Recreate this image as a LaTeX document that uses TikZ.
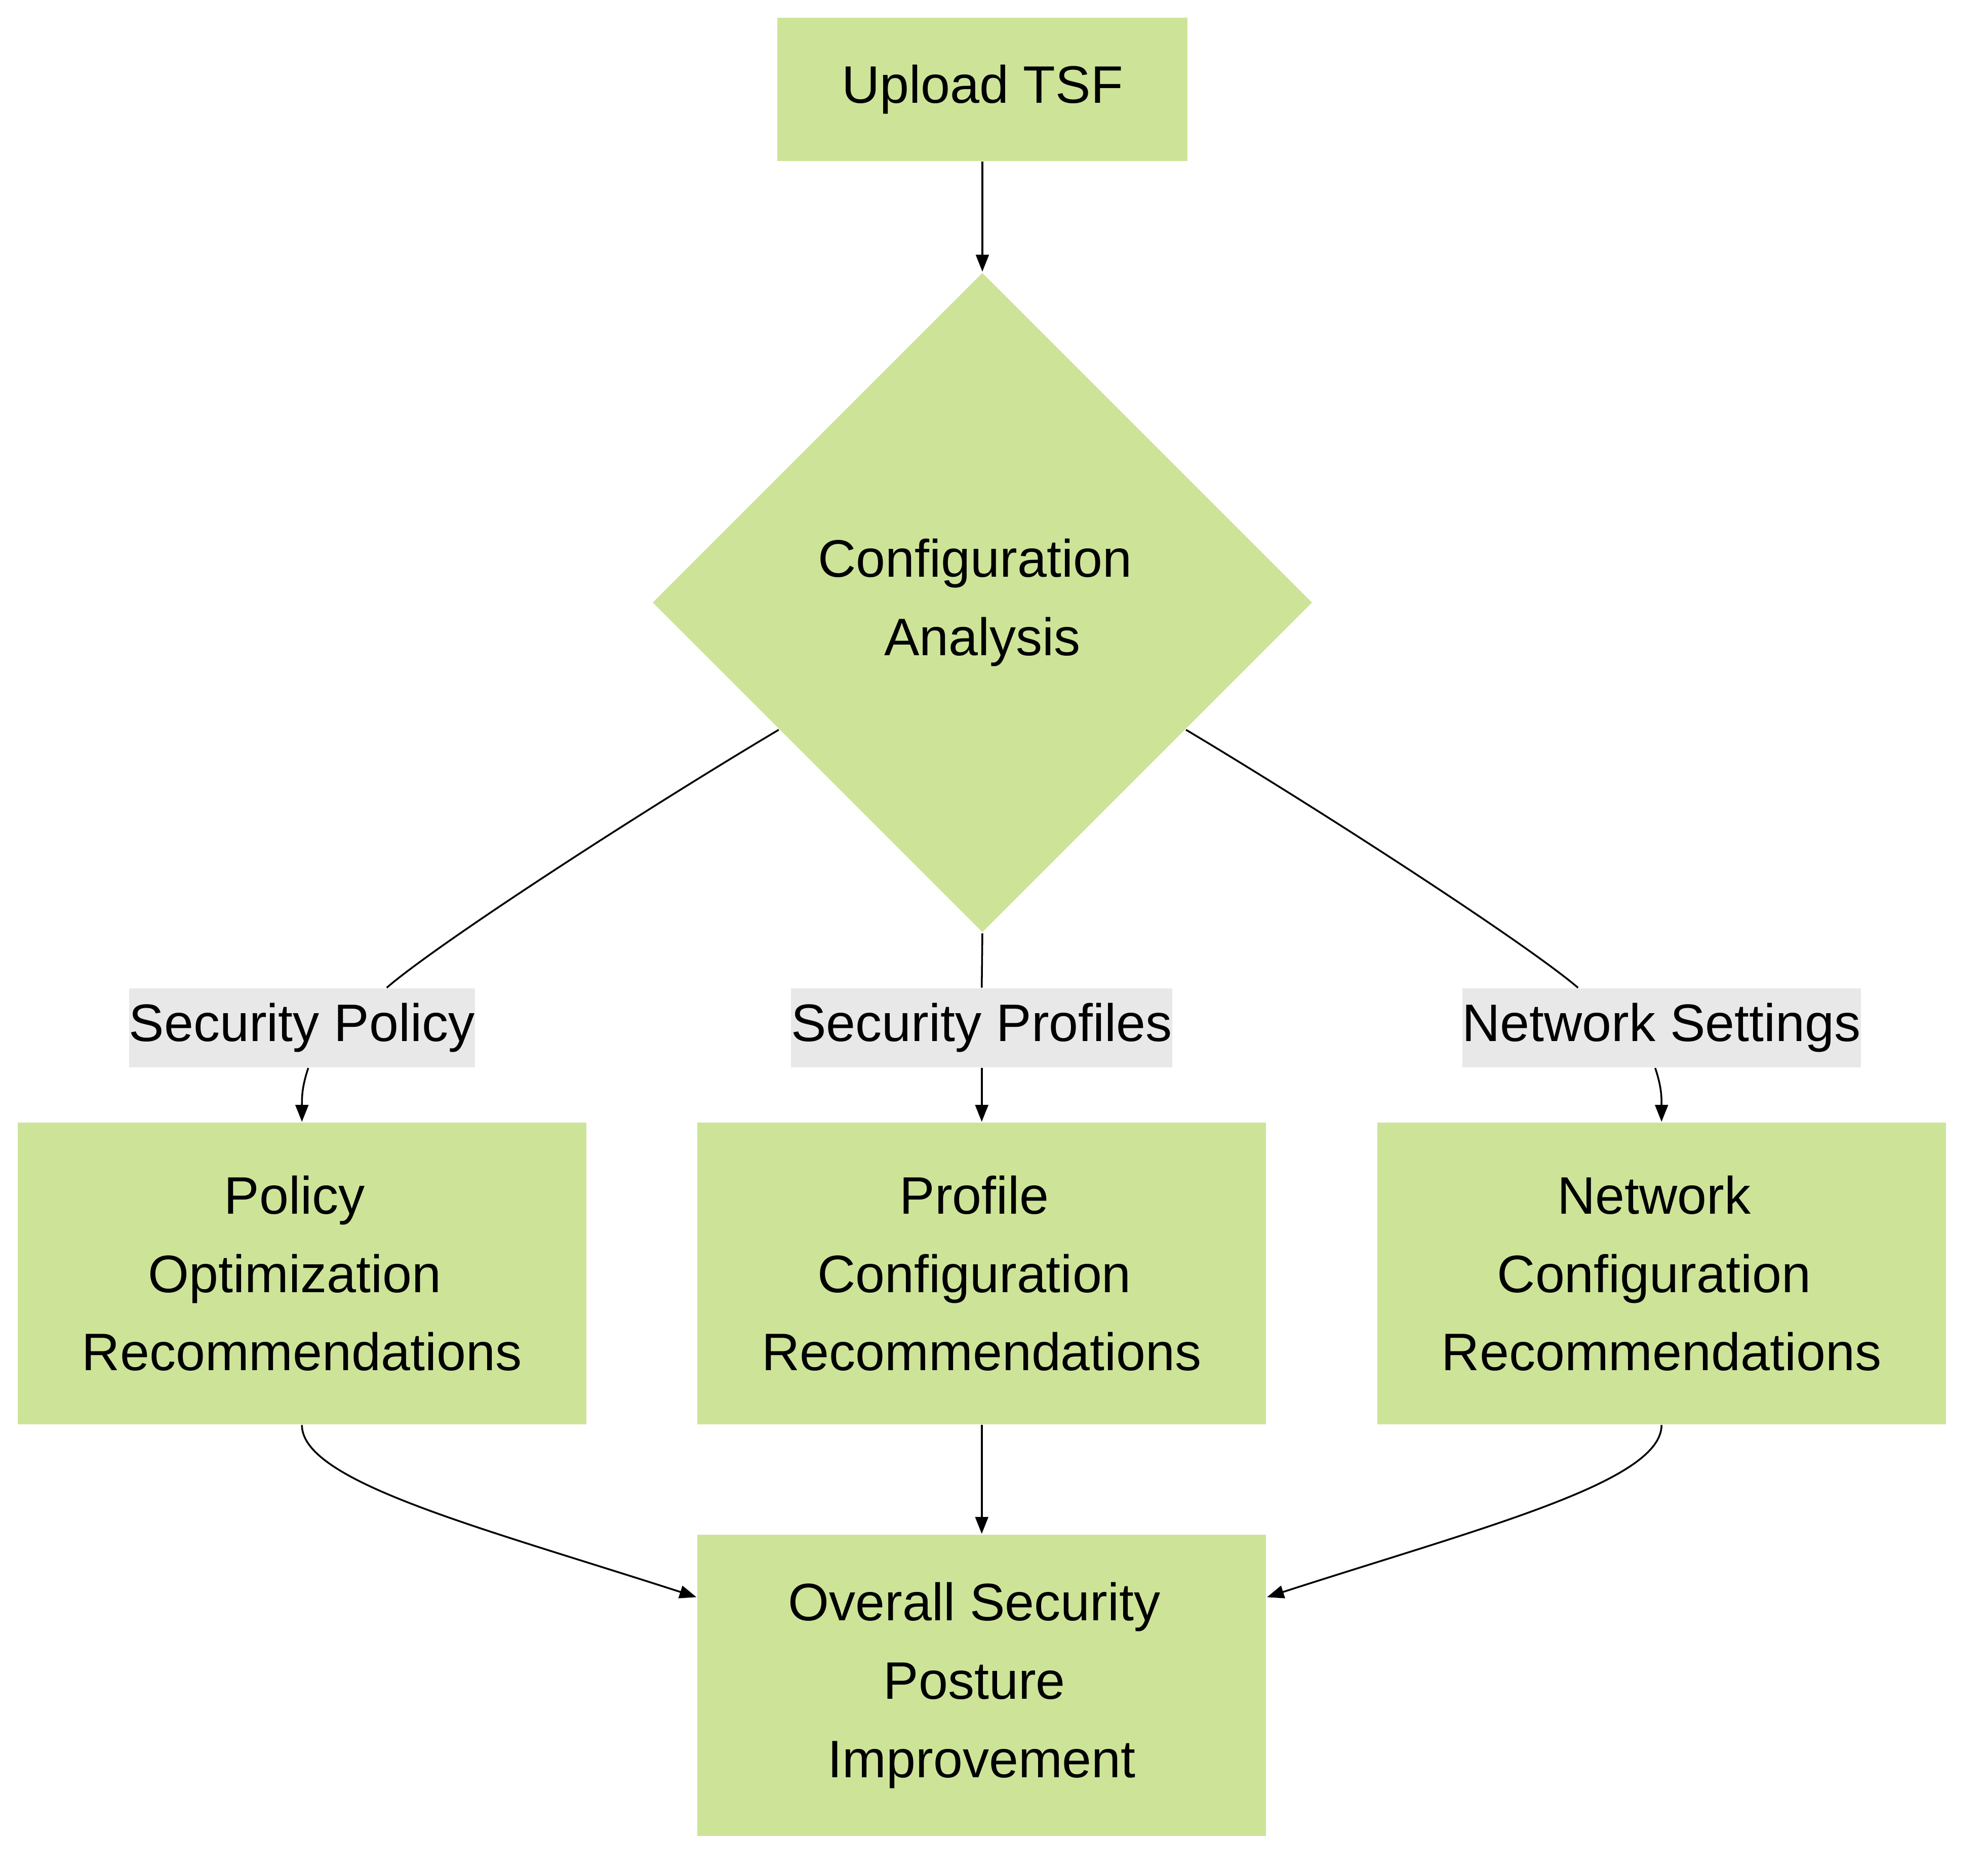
\documentclass[tikz,border=0pt]{standalone}
\usepackage{fontspec}
\setmainfont{Liberation Sans}
\usetikzlibrary{shapes.geometric,arrows.meta,calc}

\definecolor{forest}{HTML}{CDE498}
\definecolor{lblgray}{HTML}{E8E8E8}
\newcommand{\trsp}{\kern0.28em}

\begin{document}
\begin{tikzpicture}[x=0.01cm,y=-0.01cm,
    every node/.style={font=\fontsize{11.85}{17.6}\selectfont,align=center},
    box/.style={rectangle,fill=forest,inner sep=0pt},
    rec/.style={minimum width=4.49cm,minimum height=2.38cm},
    lbl/.style={rectangle,fill=lblgray,inner sep=0pt,minimum height=0.62cm},
    edge/.style={draw=black,line width=0.4pt},
    flow/.style={edge,-{Triangle[length=3.8pt,width=2.9pt]}}]
    \useasboundingbox (0,0) rectangle (1568,1482);

    \node[box,minimum width=3.24cm,minimum height=1.13cm] (tsf) at (776,70.5) {Upload TSF};
    \node[diamond,fill=forest,inner sep=0pt,minimum width=5.21cm,minimum height=5.21cm] (cfg) at (776,476) {Configuration\trsp\\Analysis};

    %edge labels
    \node[lbl] (lpol) at (238.5,812) {Security Policy};
    \node[lbl] (lprof) at (775.5,812) {Security Profiles};
    \node[lbl] (lnet) at (1312.5,812) {Network Settings};

    %recommendations
    \node[box,rec] (pol) at (238.5,1006) {Policy\trsp\\Optimization\trsp\\Recommendations};
    \node[box,rec] (prof) at (775.5,1006) {Profile\trsp\\Configuration\trsp\\Recommendations};
    \node[box,rec] (net) at (1312.5,1006) {Network\trsp\\Configuration\trsp\\Recommendations};

    %result
    \node[box,rec] (post) at (775.5,1331.5) {Overall Security\trsp\\Posture\trsp\\Improvement};

    \draw[flow] (tsf) -- (cfg);

    \draw[edge] (cfg.212) .. controls (505,642) and (345,746) .. ($(lpol.north)+(67,0)$);
    \draw[flow] ($(lpol.south)+(5,0)$) .. controls +(-5,15) and +(0,-20) .. (pol.north);

    \draw[edge] (cfg.south) -- (lprof.north);
    \draw[flow] (lprof.south) -- (prof.north);

    \draw[edge] (cfg.328) .. controls (1046.5,642) and (1206.5,746) .. ($(lnet.north)+(-66,0)$);
    \draw[flow] ($(lnet.south)+(-5,0)$) .. controls +(5,15) and +(0,-20) .. (net.north);

    \draw[flow] (pol.south) .. controls +(0,45) and +(-170,-55) .. ($(post.north west)+(0,50)$);
    \draw[flow] (prof) -- (post);
    \draw[flow] (net.south) .. controls +(0,45) and +(170,-55) .. ($(post.north east)+(0,50)$);
\end{tikzpicture}
\end{document}
